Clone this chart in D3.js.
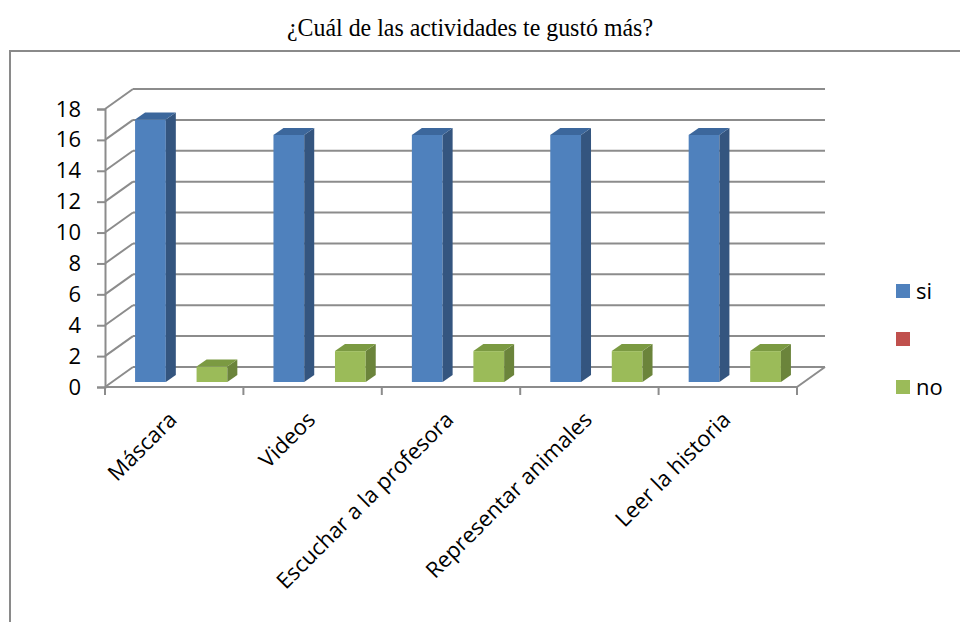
<!DOCTYPE html>
<html>
<head>
<meta charset="utf-8">
<script src="https://cdn.jsdelivr.net/npm/d3@7"></script>
<style>
  body { margin: 0; background: #fff; }
  svg { display: block; }
</style>
</head>
<body>
<div id="chart"></div>
<script>
// data
var categories = ["Máscara", "Videos", "Escuchar a la profesora", "Representar animales", "Leer la historia"];
var seriesNames = ["si", "", "no"];
var siValues = [17, 16, 16, 16, 16];
var blankValues = [null, null, null, null, null];
var noValues = [1, 2, 2, 2, 2];
var yTicks = [0, 2, 4, 6, 8, 10, 12, 14, 16, 18];

var seriesValues = [siValues, blankValues, noValues];
var colors = [
  {front: "#4f81bd", side: "#34557f", top: "#3c679c"},
  {front: "#c0504d", side: "#8c3836", top: "#a14441"},
  {front: "#9bbb59", side: "#6b843b", top: "#7b9a42"}
];

var W = 960, H = 622;
var left = 105, right = 797, y0 = 387, yTop = 109;
var depth = {x: 28, y: -20};     // back wall offset
var barShift = {x: 7, y: -5};    // bars sit a little behind the front edge
var barDepth = {x: 10, y: -7};   // bar side/top thickness
var labelFont = "'Open Sans', Lato, sans-serif";

var svg = d3.select("#chart")
  .append("svg")
    .attr("width", W)
    .attr("height", H);

// title
svg.append("text")
  .attr("x", 287)
  .attr("y", 36)
  .attr("textLength", 366)
  .attr("lengthAdjust", "spacingAndGlyphs")
  .style("font-family", "'Liberation Serif', 'Times New Roman', serif")
  .style("font-size", "25px")
  .text("¿Cuál de las actividades te gustó más?");

// chart frame
svg.append("rect")
  .attr("x", 10).attr("y", 51)
  .attr("width", 970).attr("height", 600)
  .attr("fill", "none")
  .attr("stroke", "#8a8a8a")
  .attr("stroke-width", 2);

var x0 = d3.scaleBand()
  .domain(categories)
  .range([left, right]);

var x1 = d3.scaleBand()
  .domain(seriesNames)
  .range([0, x0.bandwidth()])
  .paddingOuter(0.75);

var y = d3.scaleLinear()
  .domain([0, 18])
  .range([y0, yTop]);

var gridColor = "#8c8c8c";

// back wall gridlines + left wall diagonals
var grid = svg.append("g").attr("stroke", gridColor).attr("stroke-width", 2).attr("fill", "none");
yTicks.forEach(function(v) {
  grid.append("line")
    .attr("x1", left + depth.x).attr("y1", y(v) + depth.y)
    .attr("x2", right + depth.x).attr("y2", y(v) + depth.y);
  grid.append("line")
    .attr("x1", left).attr("y1", y(v))
    .attr("x2", left + depth.x).attr("y2", y(v) + depth.y);
});

// floor edges
grid.append("line")
  .attr("x1", left).attr("y1", y0)
  .attr("x2", right).attr("y2", y0);
grid.append("line")
  .attr("x1", right).attr("y1", y0)
  .attr("x2", right + depth.x).attr("y2", y0 + depth.y);

// front value axis
var yAxis = svg.append("g")
  .attr("transform", "translate(" + left + ",0)")
  .call(d3.axisLeft(y).tickValues(yTicks).tickSize(8).tickPadding(16));
yAxis.select(".domain").attr("stroke", gridColor).attr("stroke-width", 2);
yAxis.selectAll(".tick line").attr("stroke", gridColor).attr("stroke-width", 2);
yAxis.selectAll(".tick text")
  .attr("fill", "#000")
  .style("font-family", labelFont)
  .style("font-size", "22px");

// category ticks
var bounds = categories.map(function(c) { return x0(c); }).concat([right]);
svg.append("g").selectAll("line")
  .data(bounds)
  .enter()
  .append("line")
    .attr("x1", function(d) { return d; })
    .attr("x2", function(d) { return d; })
    .attr("y1", y0)
    .attr("y2", y0 + 8)
    .attr("stroke", gridColor)
    .attr("stroke-width", 2);

// bars
var bars = [];
categories.forEach(function(c, i) {
  seriesValues.forEach(function(vals, s) {
    if (vals[i] == null) return;
    bars.push({cat: c, s: s, value: vals[i]});
  });
});

var barG = svg.append("g").selectAll("g")
  .data(bars)
  .enter()
  .append("g");

function bx(d) { return x0(d.cat) + x1(seriesNames[d.s]) + barShift.x; }
function byTop(d) { return y(d.value) + barShift.y; }
var bw = x1.bandwidth();
var baseY = y0 + barShift.y;

barG.append("rect")
  .attr("x", bx)
  .attr("y", byTop)
  .attr("width", bw)
  .attr("height", function(d) { return baseY - byTop(d); })
  .attr("fill", function(d) { return colors[d.s].front; });

barG.append("polygon")
  .attr("points", function(d) {
    var x = bx(d) + bw, t = byTop(d);
    return [[x, t], [x + barDepth.x, t + barDepth.y], [x + barDepth.x, baseY + barDepth.y], [x, baseY]].join(" ");
  })
  .attr("fill", function(d) { return colors[d.s].side; });

barG.append("polygon")
  .attr("points", function(d) {
    var x = bx(d), t = byTop(d);
    return [[x, t], [x + barDepth.x, t + barDepth.y], [x + bw + barDepth.x, t + barDepth.y], [x + bw, t]].join(" ");
  })
  .attr("fill", function(d) { return colors[d.s].top; });

// category labels
svg.append("g").selectAll("text")
  .data(categories)
  .enter()
  .append("text")
    .attr("transform", function(d) {
      return "translate(" + (x0(d) + x0.bandwidth() / 2 + 4) + "," + (y0 + 34) + ")rotate(-45)";
    })
    .attr("text-anchor", "end")
    .style("font-family", labelFont)
    .style("font-size", "22px")
    .text(function(d) { return d; });

// legend
var legend = svg.append("g")
  .attr("transform", "translate(896,284)")
  .selectAll("g")
  .data(seriesNames)
  .enter()
  .append("g")
    .attr("transform", function(d, i) { return "translate(0," + (i * 48) + ")"; });

legend.append("rect")
  .attr("width", 14)
  .attr("height", 14)
  .attr("fill", function(d, i) { return colors[i].front; });

legend.append("text")
  .attr("x", 20)
  .attr("y", 15)
  .style("font-family", labelFont)
  .style("font-size", "22px")
  .text(function(d) { return d; });
</script>
</body>
</html>
